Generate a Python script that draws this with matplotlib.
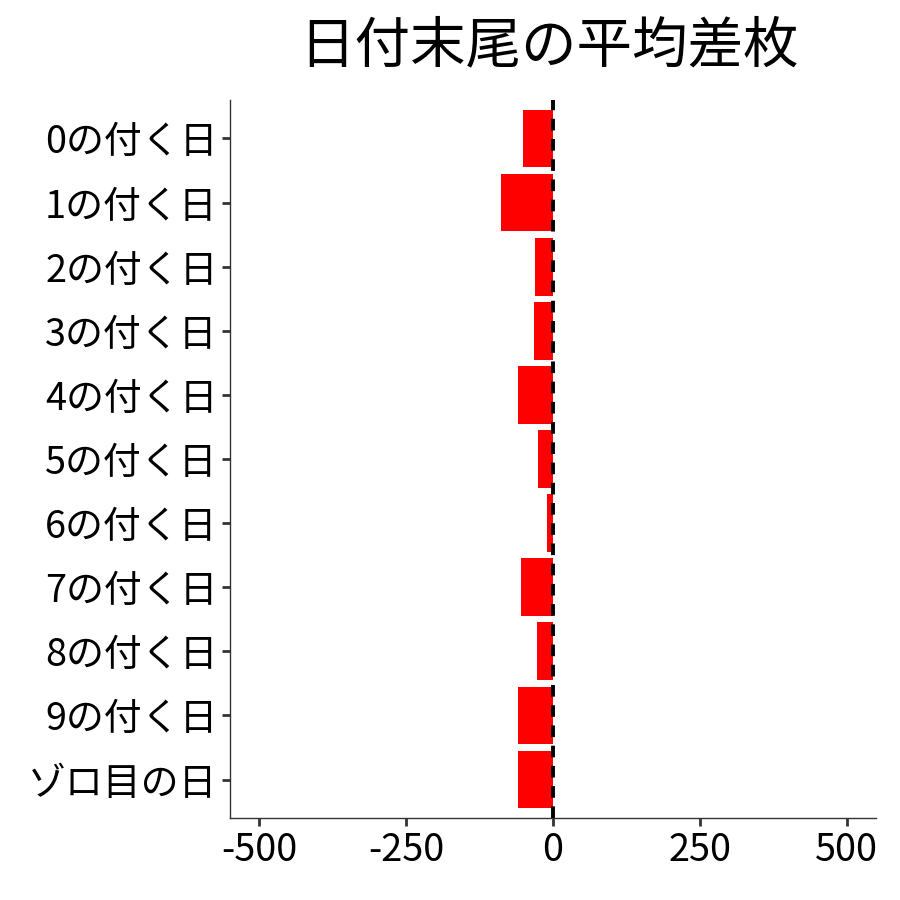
import matplotlib
matplotlib.use("Agg")
import matplotlib.pyplot as plt

plt.rcParams['font.family'] = ['Noto Sans CJK JP', 'DejaVu Sans']

labels = ["0の付く日", "1の付く日", "2の付く日", "3の付く日", "4の付く日",
          "5の付く日", "6の付く日", "7の付く日", "8の付く日", "9の付く日", "ゾロ目の日"]
diffs = [-51, -88, -31, -33, -60, -26, -11, -55, -28, -59, -59]
xticks = [-500, -250, 0, 250, 500]

fig = plt.figure(figsize=(9, 9), dpi=100)
ax = fig.add_axes([0.2556, 0.0911, 0.7177, 0.7978])

pos = list(range(len(labels)))
ax.barh(pos, diffs, height=0.9, color="#ff0000", zorder=2)
ax.axvline(0, color="black", linestyle=(0, (3, 2.2)), linewidth=2.8, zorder=3)

ax.set_yticks(pos)
ax.set_yticklabels(labels, fontsize=27.3)
ax.set_ylim(len(labels) - 0.4, -0.6)
ax.set_xlim(-550, 550)
ax.set_xticks(xticks)
ax.set_xticklabels([str(v) for v in xticks], fontsize=27.3)

for s in ["top", "right"]:
    ax.spines[s].set_visible(False)
for s in ["left", "bottom"]:
    ax.spines[s].set_color("#333333")
    ax.spines[s].set_linewidth(1.0)
ax.tick_params(axis="both", length=6, width=2, color="#333333", labelcolor="black", pad=3)

fig.suptitle("日付末尾の平均差枚", fontsize=40, x=0.61, y=0.98)

plt.savefig("out.png", dpi=100)
